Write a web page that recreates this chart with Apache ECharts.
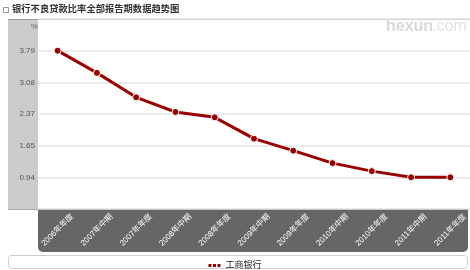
<!DOCTYPE html>
<html><head><meta charset="utf-8">
<script src="https://cdn.jsdelivr.net/npm/echarts@6/dist/echarts.min.js"></script>
<style>html,body{margin:0;padding:0;background:#fff}#c{width:470px;height:270px}</style>
</head><body><div id="c"></div>
<script>
const title = '银行不良贷款比率全部报告期数据趋势图';
const categories = ['2006年年度','2007年中期','2007年年度','2008年中期','2008年年度','2009年中期','2009年年度','2010年中期','2010年年度','2011年中期','2011年年度'];
const seriesName = '工商银行';
const values = [3.79, 3.29, 2.74, 2.41, 2.29, 1.81, 1.54, 1.26, 1.08, 0.94, 0.94];
const yUnit = '%';
const yMin = 0.2275, yMax = 4.5025, yStep = 0.7125;

const chart = echarts.init(document.getElementById('c'), null, {renderer:'canvas'});
const font = 'Arial, "Liberation Sans", "Noto Sans CJK SC", sans-serif';
chart.setOption({
  animation:false,
  graphic:[
    {type:'rect', shape:{x:3.5,y:7.5,width:5,height:5}, style:{fill:'#fff',stroke:'#999',lineWidth:1}},
    {type:'text', left:12, top:5, style:{text:title, font:'bold 9.3px '+font, fill:'#333'}},
    {type:'rect', shape:{x:8,y:19,width:30,height:190}, style:{fill:'#cccccc'}, z:-1},
    {type:'line', shape:{x1:8,y1:19.5,x2:470,y2:19.5}, style:{stroke:'#999',lineWidth:1}},
    {type:'line', shape:{x1:8,y1:209.5,x2:38,y2:209.5}, style:{stroke:'#aaa',lineWidth:1}},
    {type:'rect', shape:{x:38,y:209,width:430,height:43,r:[0,0,5,5]}, style:{fill:'#666666'}, z:-1},
    {type:'rect', shape:{x:8.5,y:255.5,width:459,height:13,r:3}, style:{fill:'#fff',stroke:'#ccc',lineWidth:1}, z:-1},
    {type:'text', left:31, top:23, style:{text:yUnit, font:'8px '+font, fill:'#666'}},
    {type:'text', left:386, top:19, style:{text:'hexun', font:'bold 16px '+font, fill:'#d9d9d9'}},
    {type:'text', left:432, top:19, style:{text:'.com', font:'16px '+font, fill:'#e2e2e2'}}
  ],
  legend:{
    data:[seriesName], left:'center', top:256, itemWidth:12, itemHeight:4, itemGap:3,
    icon:'path://M0,0h3v3h-3zM4.5,0h3v3h-3zM9,0h3v3h-3z',
    itemStyle:{color:'#990000', borderWidth:0},
    textStyle:{fontSize:9, color:'#222', fontFamily:font}
  },
  grid:{left:38, right:0, top:19, bottom:61, containLabel:false},
  xAxis:{
    type:'category', data:categories, boundaryGap:true,
    axisLine:{show:false}, axisTick:{show:false}, splitLine:{show:false},
    axisLabel:{rotate:45, fontSize:8, color:'#fff', margin:21, fontFamily:font, interval:0,
      align:'center', verticalAlign:'middle'}
  },
  yAxis:{
    type:'value', min:yMin, max:yMax, interval:yStep,
    axisLine:{show:false}, axisTick:{show:false},
    splitLine:{lineStyle:{color:'#e6e6e6', width:1.5}},
    axisLabel:{fontSize:8, color:'#555', margin:3, fontFamily:font, showMinLabel:false, showMaxLabel:false,
      formatter:v=>v.toFixed(2)}
  },
  series:[{
    name:seriesName, type:'line', data:values,
    lineStyle:{color:'#990000', width:3},
    itemStyle:{color:'#990000', borderColor:'#fff', borderWidth:1},
    symbol:'circle', symbolSize:7
  }]
});
</script></body></html>
